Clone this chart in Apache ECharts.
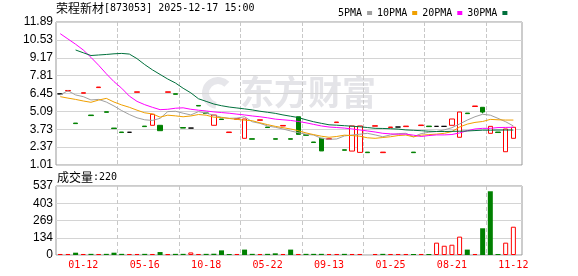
<!DOCTYPE html>
<html><head><meta charset="utf-8">
<script src="https://cdn.jsdelivr.net/npm/echarts@6/dist/echarts.min.js"></script>
<style>html,body{margin:0;padding:0;background:#fff}#c{width:578px;height:276px}</style>
</head><body><div id="c"></div>
<script>
const titleName = '荣程新材';
const titleRest = '[873053] 2025-12-17 15:00';
const volTitle = '成交量';
const volLast = ':220';
const watermark = '东方财富';
const xTickLabels = ['01-12','05-16','10-18','05-22','09-13','01-25','08-21','11-12'];
const xTickIndex = [3,11,19,27,35,43,51,59];
const priceTicks = ['1.01','2.37','3.73','5.09','6.45','7.81','9.17','10.53','11.89'];
const volTicks = ['0','134','269','403','537'];
const maNames = ['5PMA','10PMA','20PMA','30PMA'];

const open = [6.42,6.64,4.20,6.47,4.81,6.90,5.06,3.82,3.52,3.50,6.54,3.97,4.03,4.03,6.54,6.43,3.86,3.82,5.54,4.97,4.03,4.51,3.48,4.49,3.04,3.01,4.41,3.90,3.01,3.98,3.01,4.68,3.31,2.76,3.04,2.97,4.24,2.17,2.07,1.97,1.99,3.96,1.95,3.86,3.90,3.93,1.99,4.01,3.97,3.95,3.95,4.03,3.12,4.96,5.46,5.40,3.42,3.52,2.02,3.04];
const close = [6.42,6.68,4.16,6.51,4.77,6.94,5.02,3.78,3.48,3.50,6.58,3.93,4.87,3.62,6.58,6.39,3.82,3.82,5.50,4.93,4.81,4.47,3.52,4.53,4.51,2.97,4.45,3.86,2.97,4.02,2.97,3.34,3.27,2.72,2.08,3.01,4.28,2.13,3.98,3.98,1.95,4.00,1.99,3.90,3.90,3.97,1.95,4.05,3.93,3.95,3.95,4.51,5.04,4.92,5.50,5.04,3.95,3.48,3.75,3.88];
const high = [6.42,6.68,4.20,6.51,4.81,6.94,5.06,3.82,3.52,3.50,6.58,3.97,4.87,4.03,6.58,6.43,3.86,3.82,5.54,4.97,4.81,4.51,3.52,4.53,4.51,3.01,4.45,3.90,3.01,4.02,3.01,4.68,3.31,2.76,3.04,3.01,4.28,2.17,3.98,3.98,1.99,4.00,1.99,3.90,3.90,3.97,1.99,4.05,3.97,3.95,3.95,4.51,5.04,4.96,5.50,5.40,3.95,3.52,3.75,3.88];
const low = [6.42,6.64,4.16,6.47,4.77,6.90,5.02,3.78,3.48,3.50,6.54,3.93,4.03,3.62,6.54,6.39,3.82,3.82,5.50,4.93,4.03,4.47,3.48,4.49,3.04,2.97,4.41,3.86,2.97,3.98,2.97,3.34,3.27,2.72,2.08,2.97,4.24,2.13,2.07,1.97,1.95,3.96,1.95,3.86,3.90,3.93,1.95,4.01,3.93,3.95,3.95,4.03,3.12,4.92,5.46,4.94,3.42,3.48,2.02,3.04];
const volume = [8,8,18,8,9,8,9,18,9,8,8,9,8,23,7,9,9,20,8,9,10,36,8,8,42,9,8,9,13,8,42,8,9,9,9,8,8,9,8,8,0,8,9,8,8,8,8,8,8,96,72,80,143,42,8,208,496,8,96,220];
const ma5 = [6.34,6.66,6.34,6.21,5.96,6.00,5.80,5.50,5.15,4.85,4.60,4.45,4.40,4.56,5.07,5.10,4.95,4.82,5.07,4.95,4.80,4.64,4.56,4.58,4.68,4.30,4.18,3.98,3.88,3.75,3.60,3.47,3.35,3.29,3.04,2.96,2.99,3.22,3.29,3.35,3.42,3.30,3.16,3.30,3.40,3.42,3.16,3.40,3.50,3.56,3.68,3.85,4.13,4.43,4.68,4.87,4.80,4.56,4.30,3.98];
const ma10 = [6.21,6.10,6.00,5.88,5.78,5.95,6.08,5.80,5.58,5.40,5.18,4.98,4.90,4.65,4.80,4.75,4.68,4.74,4.85,4.80,4.65,4.62,4.55,4.48,4.42,4.38,4.22,4.08,3.95,3.85,3.75,3.62,3.45,3.32,3.20,3.12,3.18,3.28,3.25,3.20,3.08,3.04,3.10,3.16,3.25,3.29,3.15,3.28,3.32,3.36,3.42,3.55,3.90,4.12,4.25,4.32,4.48,4.45,4.43,4.43];
const ma20 = [11.00,10.60,10.20,9.76,9.20,8.60,7.95,7.35,6.85,6.25,5.85,5.60,5.40,5.22,5.25,5.33,5.36,5.25,5.18,5.12,5.05,5.00,4.95,4.88,4.82,4.74,4.68,4.60,4.50,4.45,4.40,4.32,4.22,4.10,3.98,3.90,3.86,3.82,3.75,3.68,3.60,3.52,3.42,3.38,3.35,3.36,3.28,3.18,3.25,3.30,3.30,3.33,3.45,3.62,3.75,3.80,3.80,3.86,3.87,3.88];
const ma30 = [null,null,9.76,9.55,9.34,9.38,9.42,9.47,9.50,9.45,9.10,8.65,8.25,7.90,7.55,7.25,6.85,6.50,6.05,5.85,5.65,5.52,5.42,5.35,5.28,5.20,5.10,5.02,4.94,4.82,4.72,4.62,4.45,4.30,4.18,4.07,4.04,4.00,3.96,3.92,3.86,3.80,3.79,3.77,3.74,3.68,3.65,3.62,3.58,3.56,3.56,3.57,3.58,3.60,3.63,3.66,3.66,3.67,3.67,3.67];

const UP = '#ff0000', DOWN = '#008000', GRID = '#d4d4d4', FRAME = '#999999';
const maColors = ['#a0a0a0','#f0a000','#ff00ff','#00703c'];
const mono = 'DejaVu Sans Mono';
const PRICE_MIN = 1.01, PRICE_MAX = 11.89, VOL_MAX = 537;

// layout: frame boxes and the (slightly narrower) data boxes
const FR = { left: 56, width: 466 };
const DA = { left: 56.4, width: 460.8 };
const BAND = DA.width / open.length;
// frame x axis measured in candles, counted from the first labelled candle
const fxMin = -(xTickIndex[0] + 0.5) - (DA.left - FR.left) / BAND;
const fxMax = fxMin + FR.width / BAND;
const fxInterval = xTickIndex[1] - xTickIndex[0];

const cats = open.map((_, i) => String(i));
const kData = open.map((o, i) => {
  const item = { value: [o, close[i], low[i], high[i]] };
  if (o === close[i]) item.itemStyle = { color: '#000', borderColor: '#000' };
  return item;
});
const volData = volume.map((v, i) => {
  const up = i === 0 || close[i] >= close[i - 1];
  return { value: v, itemStyle: up ? { color: '#fff', borderColor: UP, borderWidth: 1 } : { color: DOWN, borderColor: DOWN, borderWidth: 0 } };
});
function frameX(gi, dashType) {
  return { type: 'value', gridIndex: gi, min: fxMin, max: fxMax, interval: fxInterval,
    axisLine: { show: false }, axisTick: { show: false }, axisLabel: { show: false },
    splitLine: { show: true, showMinLine: false, showMaxLine: false,
      lineStyle: { color: '#c8c8c8', width: 1, type: dashType } } };
}

const T = 'rgba(0,0,0,0)';
const option = {
  animation: false,
  backgroundColor: '#fff',
  grid: [
    { left: FR.left, width: FR.width, top: 22, height: 143, show: true, borderColor: FRAME, borderWidth: 1, backgroundColor: T },
    { left: FR.left, width: FR.width, top: 186, height: 69, show: true, borderColor: FRAME, borderWidth: 1, backgroundColor: T },
    { left: DA.left, width: DA.width, top: 22, height: 143, show: false, backgroundColor: T },
    { left: DA.left, width: DA.width, top: 186, height: 69, show: false, backgroundColor: T }
  ],
  xAxis: [
    frameX(0, 'dashed'),
    frameX(1, [4, 3]),
    { type: 'category', gridIndex: 2, data: cats, boundaryGap: true, axisLine: { show: false }, axisTick: { show: false }, axisLabel: { show: false }, splitLine: { show: false } },
    { type: 'category', gridIndex: 3, data: cats, boundaryGap: true, axisLine: { show: false }, axisTick: { show: false }, splitLine: { show: false },
      axisLabel: { interval: 0, margin: 5, color: UP, fontFamily: mono, fontSize: 10,
        formatter: v => { const k = xTickIndex.indexOf(+v); return k >= 0 ? xTickLabels[k] : ''; } } }
  ],
  yAxis: [
    { type: 'value', gridIndex: 0, min: 0, max: 8, interval: 1, axisLine: { show: false }, axisTick: { show: false },
      splitLine: { lineStyle: { color: GRID, width: 1 } },
      axisLabel: { margin: 3, color: '#000', fontFamily: 'Liberation Sans', fontSize: 12, formatter: v => priceTicks[v] } },
    { type: 'value', gridIndex: 1, min: 0, max: 4, interval: 1, axisLine: { show: false }, axisTick: { show: false },
      splitLine: { lineStyle: { color: GRID, width: 1 } },
      axisLabel: { margin: 3, color: '#000', fontFamily: 'Liberation Sans', fontSize: 12, formatter: v => volTicks[v] } },
    { type: 'value', gridIndex: 2, min: PRICE_MIN, max: PRICE_MAX, show: false },
    { type: 'value', gridIndex: 3, min: 0, max: VOL_MAX, show: false }
  ],
  legend: {
    data: maNames, left: 333, top: 3, itemWidth: 5, itemHeight: 4, itemGap: 5, align: 'right', icon: 'rect',
    selectedMode: false, textStyle: { fontFamily: mono, fontSize: 10, color: '#000' }
  },
  graphic: [
    { type: 'sector', z: 0, silent: true,
      shape: { cx: 218, cy: 93, r: 16, r0: 9, startAngle: Math.PI * 0.55, endAngle: Math.PI * 1.75 },
      style: { fill: '#e6e6ea' } },
    { type: 'text', left: 240, top: 75, z: 0, silent: true,
      style: { text: watermark, fill: '#e4e4e8', font: 'bold 34px "Noto Sans CJK SC"' } },
    { type: 'text', left: 56, top: 2, z: 10,
      style: { text: '{a|' + titleName + '}{b|' + titleRest + '}', rich: {
        a: { fontFamily: 'Noto Sans CJK SC', fontSize: 12, fill: '#000', color: '#000' },
        b: { fontFamily: mono, fontSize: 10, fill: '#000', color: '#000' } } } },
    { type: 'text', left: 57, top: 171, z: 10,
      style: { text: '{a|' + volTitle + '}{b|' + volLast + '}', rich: {
        a: { fontFamily: 'Noto Sans CJK SC', fontSize: 12, fill: '#000', color: '#000' },
        b: { fontFamily: mono, fontSize: 10, fill: '#000', color: '#000' } } } }
  ],
  series: [
    { type: 'candlestick', name: 'K', xAxisIndex: 2, yAxisIndex: 2, z: 3, barWidth: 5, data: kData,
      itemStyle: { color: '#ffffff', color0: DOWN, borderColor: UP, borderColor0: DOWN, borderWidth: 1 } },
    { type: 'bar', name: 'VOL', xAxisIndex: 3, yAxisIndex: 3, z: 3, barWidth: 5, data: volData },
    ...[ma5, ma10, ma20, ma30].map((d, k) => ({
      type: 'line', name: maNames[k], xAxisIndex: 2, yAxisIndex: 2, z: 4, data: d,
      symbol: 'none', showSymbol: false, smooth: false, silent: true,
      lineStyle: { color: maColors[k], width: 1 }, itemStyle: { color: maColors[k] }
    }))
  ]
};
const chart = echarts.init(document.getElementById('c'), null, { renderer: 'canvas' });
chart.setOption(option);
</script></body></html>
